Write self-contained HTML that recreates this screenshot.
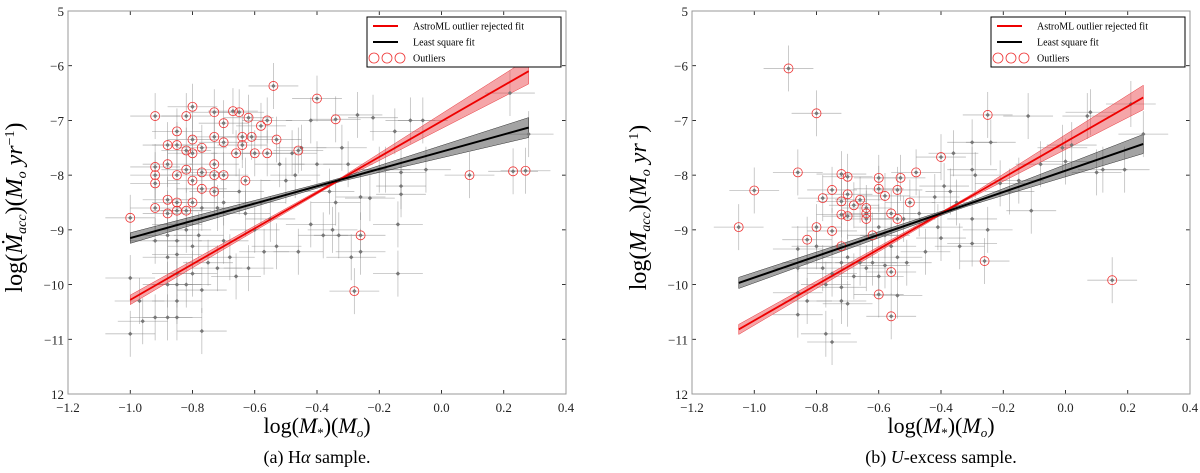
<!DOCTYPE html>
<html><head><meta charset="utf-8"><style>
body{margin:0;background:#fff;width:1200px;height:473px;overflow:hidden}
svg{display:block;font-family:"Liberation Serif",serif}
</style></head><body>
<svg id="c" width="1200" height="473"></svg>
<script>
// ---- data: panel (a) H-alpha ----
const aOutX=[-1.0,-0.92,-0.92,-0.92,-0.92,-0.92,-0.88,-0.88,-0.88,-0.88,-0.85,-0.85,-0.85,-0.85,-0.85,-0.82,-0.82,-0.82,-0.82,-0.80,-0.80,-0.80,-0.80,-0.80,-0.77,-0.77,-0.77,-0.73,-0.73,-0.73,-0.73,-0.73,-0.70,-0.70,-0.70,-0.67,-0.66,-0.65,-0.64,-0.64,-0.63,-0.62,-0.61,-0.60,-0.58,-0.56,-0.56,-0.54,-0.53,-0.46,-0.40,-0.34,-0.26,-0.28,0.09,0.23,0.27];
const aOutY=[-8.78,-6.92,-7.85,-8.0,-8.15,-8.6,-7.45,-7.8,-8.45,-8.7,-7.2,-7.45,-8.0,-8.5,-8.65,-6.92,-7.55,-7.9,-8.65,-6.75,-7.35,-7.6,-8.1,-8.5,-7.5,-7.95,-8.25,-6.85,-7.3,-7.8,-8.0,-8.3,-7.05,-7.4,-8.0,-6.83,-7.6,-6.85,-7.3,-7.45,-8.1,-6.95,-7.3,-7.6,-7.1,-7.0,-7.6,-6.37,-7.35,-7.55,-6.6,-6.98,-9.1,-10.12,-8.0,-7.93,-7.92];
const aInX=[-1.0,-1.0,-0.97,-0.96,-0.92,-0.92,-0.88,-0.88,-0.88,-0.88,-0.85,-0.85,-0.85,-0.85,-0.85,-0.85,-0.85,-0.82,-0.82,-0.80,-0.80,-0.78,-0.77,-0.77,-0.77,-0.75,-0.72,-0.72,-0.70,-0.70,-0.68,-0.66,-0.65,-0.63,-0.62,-0.60,-0.58,-0.57,-0.55,-0.53,-0.52,-0.50,-0.48,-0.47,-0.46,-0.45,-0.42,-0.42,-0.40,-0.38,-0.36,-0.35,-0.34,-0.33,-0.32,-0.30,-0.29,-0.27,-0.26,-0.26,-0.22,-0.23,-0.20,-0.18,-0.14,-0.14,-0.13,-0.13,-0.13,-0.10,-0.06,0.22,0.28,-0.15,-0.05];
const aInY=[-9.88,-10.9,-10.3,-10.67,-10.6,-9.2,-9.1,-9.5,-10.0,-10.6,-9.2,-9.45,-9.8,-10.0,-10.3,-10.6,-8.9,-9.0,-10.0,-9.3,-9.8,-9.1,-10.1,-10.85,-8.6,-9.6,-9.7,-8.6,-8.5,-9.2,-9.5,-9.85,-8.3,-8.7,-9.7,-9.0,-8.5,-9.4,-8.8,-9.3,-7.8,-8.1,-7.6,-8.0,-9.4,-7.5,-8.9,-7.0,-7.8,-9.1,-8.3,-9.0,-8.5,-9.1,-7.5,-7.8,-9.5,-6.9,-8.4,-9.4,-6.95,-8.42,-7.9,-7.9,-8.9,-9.8,-8.2,-8.35,-7.95,-7.0,-7.0,-6.5,-7.25,-7.2,-7.9];
const aRedFit=[[-1.0,-10.28],[0.28,-6.1]];
const aBlkFit=[[-1.0,-9.15],[0.28,-7.13]];
// ---- data: panel (b) U-excess ----
const bOutX=[-1.05,-1.0,-0.89,-0.86,-0.83,-0.80,-0.80,-0.78,-0.75,-0.75,-0.72,-0.72,-0.72,-0.72,-0.70,-0.70,-0.70,-0.68,-0.66,-0.64,-0.64,-0.64,-0.62,-0.60,-0.60,-0.60,-0.58,-0.56,-0.56,-0.56,-0.54,-0.54,-0.53,-0.50,-0.48,-0.40,-0.26,-0.25,0.15];
const bOutY=[-8.95,-8.28,-6.05,-7.95,-9.18,-6.87,-8.95,-8.42,-8.27,-9.02,-7.98,-8.48,-8.72,-9.3,-8.03,-8.35,-8.75,-8.55,-8.45,-8.6,-8.8,-8.7,-9.1,-8.05,-8.25,-10.18,-8.38,-8.7,-9.77,-10.58,-8.27,-8.8,-8.05,-8.5,-7.95,-7.67,-9.57,-6.9,-9.92];
const bInX=[-0.86,-0.86,-0.86,-0.86,-0.83,-0.83,-0.80,-0.78,-0.77,-0.77,-0.75,-0.75,-0.72,-0.72,-0.72,-0.70,-0.70,-0.68,-0.66,-0.64,-0.62,-0.60,-0.60,-0.58,-0.58,-0.56,-0.54,-0.54,-0.52,-0.51,-0.47,-0.45,-0.42,-0.41,-0.40,-0.39,-0.37,-0.36,-0.35,-0.34,-0.30,-0.30,-0.30,-0.30,-0.29,-0.25,-0.24,-0.21,-0.18,-0.15,-0.12,-0.11,-0.08,-0.01,0.0,0.02,0.07,0.08,0.10,0.12,0.19,0.21,0.25];
const bInY=[-9.35,-9.7,-10.15,-10.55,-9.6,-10.3,-9.3,-9.7,-10.0,-10.9,-11.05,-9.8,-9.6,-10.05,-10.3,-10.35,-9.5,-9.85,-9.6,-9.7,-9.6,-8.95,-9.85,-9.1,-9.65,-9.3,-9.5,-10.2,-8.8,-9.6,-8.7,-9.4,-8.4,-8.95,-9.15,-8.2,-8.3,-7.6,-8.5,-9.3,-7.4,-7.9,-8.8,-9.25,-8.0,-9.0,-7.4,-8.15,-8.3,-8.1,-6.92,-8.65,-7.8,-7.5,-7.75,-7.45,-6.92,-6.85,-7.95,-7.9,-7.9,-6.7,-7.25];
const bRedFit=[[-1.05,-10.82],[0.25,-6.58]];
const bBlkFit=[[-1.05,-9.97],[0.25,-7.43]];
const xTicks=[-1.2,-1.0,-0.8,-0.6,-0.4,-0.2,0.0,0.2,0.4];
const xTickLabels=["−1.2","−1.0","−0.8","−0.6","−0.4","−0.2","0.0","0.2","0.4"];
const yTicks=[-5,-6,-7,-8,-9,-10,-11,-12];
const yTickLabels=["5","−6","−7","−8","−9","−10","−11","12"];
const xErr=0.08, yErr=0.42;

const NS="http://www.w3.org/2000/svg";
const svg=document.getElementById('c');
function mk(t,a,p){const e=document.createElementNS(NS,t);for(const k in a)e.setAttribute(k,a[k]);(p||svg).appendChild(e);return e;}

function panel(L,R,T,B,outX,outY,inX,inY,red,blk,caption,ylab,id){
  const g=mk('g',{});
  
  
  const sx=v=>L+(v+1.2)/1.6*(R-L);
  const sy=v=>T+(-5-v)/7*(B-T);
  xTicks.forEach((t,i)=>{
    const x=sx(t);
    mk('line',{x1:x,x2:x,y1:B,y2:B-4,stroke:'#000','stroke-width':0.8},g);
    mk('line',{x1:x,x2:x,y1:T,y2:T+4,stroke:'#000','stroke-width':0.8},g);
    const tx=mk('text',{x:x,y:B+18,'text-anchor':'middle','font-size':13,fill:'#222'},g);
    tx.textContent=xTickLabels[i];
    
    
  });
  yTicks.forEach((t,i)=>{
    const y=sy(t);
    mk('line',{x1:L,x2:L+4,y1:y,y2:y,stroke:'#000','stroke-width':0.8},g);
    mk('line',{x1:R,x2:R-4,y1:y,y2:y,stroke:'#000','stroke-width':0.8},g);
    const tx=mk('text',{x:L-4,y:y+5,'text-anchor':'end','font-size':13,fill:'#222'},g);
    tx.textContent=yTickLabels[i];
    
    
  });
  const allX=inX.concat(outX), allY=inY.concat(outY);
  allX.forEach((xv,i)=>{
    const yv=allY[i];
    mk('line',{x1:sx(xv-xErr),x2:sx(xv+xErr),y1:sy(yv),y2:sy(yv),stroke:'#888','stroke-width':0.8,opacity:0.55},g);
    mk('line',{x1:sx(xv),x2:sx(xv),y1:sy(yv-yErr),y2:sy(yv+yErr),stroke:'#888','stroke-width':0.8,opacity:0.55},g);
  });
  function band(fit,a,bl,br,col){
    const [p0,p1]=fit, x0=-0.33;
    const f=x=>p0[1]+(x-p0[0])*(p1[1]-p0[1])/(p1[0]-p0[0]);
    const hw=x=>a+(x<x0?bl:br)*Math.abs(x-x0);
    let up=[],dn=[];
    for(let k=0;k<=30;k++){const x=p0[0]+(p1[0]-p0[0])*k/30;up.push(sx(x)+','+sy(f(x)+hw(x)));dn.unshift(sx(x)+','+sy(f(x)-hw(x)));}
    return mk('polygon',{points:up.concat(dn).join(' '),fill:col,'fill-opacity':0.45,stroke:col,'stroke-width':0.5},g);
  }
  const rb=band(red,0.02,0.1,0.35,'#e8383d');
  
  
  const bb=band(blk,0.03,0.1,0.25,'#333');
  
  
  allX.forEach((xv,i)=>{
    const x=sx(xv),y=sy(allY[i]);
    const d=mk('polygon',{points:`${x},${y-2.2} ${x+2.2},${y} ${x},${y+2.2} ${x-2.2},${y}`,fill:'#777'},g);
    
    
  });
  outX.forEach((xv,i)=>{
    const c=mk('circle',{cx:sx(xv),cy:sy(outY[i]),r:4.5,fill:'none',stroke:'#e33','stroke-width':0.8},g);
    
    
  });
  const rl=mk('line',{x1:sx(red[0][0]),y1:sy(red[0][1]),x2:sx(red[1][0]),y2:sy(red[1][1]),stroke:'#e00','stroke-width':1.8},g);
  
  
  const bl=mk('line',{x1:sx(blk[0][0]),y1:sy(blk[0][1]),x2:sx(blk[1][0]),y2:sy(blk[1][1]),stroke:'#000','stroke-width':2},g);
  
  
  mk('rect',{x:L,y:T,width:R-L,height:B-T,fill:'none',stroke:'#999','stroke-width':1},g);
  const lg=mk('g',{},g);
  
  
  const lx=R-199,ly=T+6;
  mk('rect',{x:lx,y:ly,width:194,height:50,fill:'#fff',stroke:'#000','stroke-width':1},lg);
  mk('line',{x1:lx+6,x2:lx+31,y1:ly+9,y2:ly+9,stroke:'#e00','stroke-width':2},lg);
  mk('line',{x1:lx+6,x2:lx+31,y1:ly+25,y2:ly+25,stroke:'#000','stroke-width':2},lg);
  [lx+7,lx+20,lx+33].forEach(cx=>mk('circle',{cx:cx,cy:ly+41,r:5,fill:'none',stroke:'#e33','stroke-width':0.8},lg));
  [['AstroML outlier rejected fit',9],['Least square fit',25],['Outliers',41]].forEach(([s,dy])=>{
    const t=mk('text',{x:lx+46,y:ly+dy+3.5,'font-size':10,fill:'#000'},lg);t.textContent=s;
    
    
  });
  const xl=mk('text',{x:(L+R)/2,y:B+39,'text-anchor':'middle','font-size':22,fill:'#000'},g);
  xl.innerHTML='log(<tspan font-style="italic">M</tspan><tspan font-size="13" dy="4">*</tspan><tspan dy="-4">)(</tspan><tspan font-style="italic">M</tspan><tspan font-size="13" dy="4" font-style="italic">o</tspan><tspan dy="-4">)</tspan>';
  
  
  const yl=mk('text',{x:0,y:0,'text-anchor':'middle','font-size':24,fill:'#000',transform:`translate(${L-46},${(T+B)/2+5}) rotate(-90)`},g);
  yl.innerHTML=ylab;
  
  
  const cp=mk('text',{x:(L+R)/2,y:B+69,'text-anchor':'middle','font-size':18,fill:'#000'},g);
  cp.innerHTML=caption;
  
  
}
panel(68,566,11,394,aOutX,aOutY,aInX,aInY,aRedFit,aBlkFit,'(a) H<tspan font-style="italic">α</tspan> sample.',
 'log(<tspan font-style="italic">Ṁ</tspan><tspan font-size="14" dy="4" font-style="italic">acc</tspan><tspan dy="-4">)(</tspan><tspan font-style="italic">M</tspan><tspan font-size="14" dy="4" font-style="italic">o</tspan><tspan dy="-4" font-style="italic"> yr</tspan><tspan font-size="14" dy="-8">−1</tspan><tspan dy="8">)</tspan>','panel-a-halpha');
panel(692,1190,11,394,bOutX,bOutY,bInX,bInY,bRedFit,bBlkFit,'(b) <tspan font-style="italic">U</tspan>-excess sample.',
 'log(<tspan font-style="italic">M</tspan><tspan font-size="14" dy="4" font-style="italic">acc</tspan><tspan dy="-4">)(</tspan><tspan font-style="italic">M</tspan><tspan font-size="14" dy="4" font-style="italic">o</tspan><tspan dy="-4" font-style="italic"> yr</tspan><tspan font-size="14" dy="-8">  1</tspan><tspan dy="8">)</tspan>','panel-b-uexcess');
</script>
</body></html>
